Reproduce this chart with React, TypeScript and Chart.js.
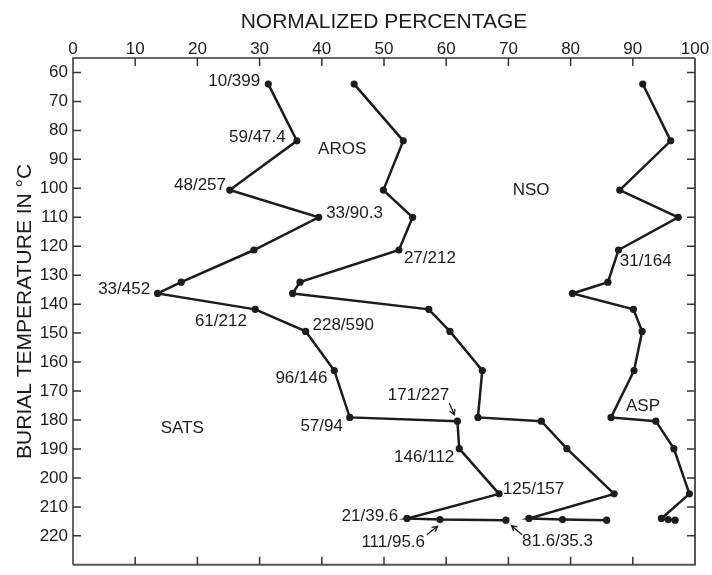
import React, { useEffect, useRef } from 'react';
import { Chart, registerables } from 'chart.js';

Chart.register(...registerables);

const FONT = "'Liberation Sans', Arial, Helvetica, sans-serif";
const INK = '#1c1c1c';

// axis ticks
const xTicks = [0, 10, 20, 30, 40, 50, 60, 70, 80, 90, 100];
const yTicks = [60, 70, 80, 90, 100, 110, 120, 130, 140, 150, 160, 170, 180, 190, 200, 210, 220];

// burial temperature of each sample (°C), shared by the three boundaries
const tempC = [64, 83.6, 100.6, 110, 121.3, 132.4, 136.3, 141.8, 149.4, 162.9, 179.1, 180.4, 189.9, 205.5, 214, 214.4, 214.6];

// cumulative normalized percentage at each boundary
const satsPct = [31.4, 36.0, 25.2, 39.5, 29.1, 17.4, 13.6, 29.3, 37.4, 42.0, 44.5, 61.8, 62.1, 68.5, 53.7, 59.0, 69.6];
const arosPct = [45.2, 53.1, 49.9, 54.6, 52.4, 36.5, 35.3, 57.2, 60.6, 65.8, 65.1, 75.3, 79.4, 87.0, 73.3, 78.7, 85.8];
const nsoPct = [91.6, 96.1, 87.9, 97.3, 87.7, 86.0, 80.3, 90.1, 91.5, 90.2, 86.5, 93.7, 96.6, 99.1, 94.6, 95.7, 96.8];

// text notes: [text, x %, y °C, align]
const notes: [string, number, number, CanvasTextAlign][] = [
  ['10/399', 30.1, 63.1, 'right'],
  ['59/47.4', 34.2, 82.4, 'right'],
  ['48/257', 24.6, 98.9, 'right'],
  ['33/90.3', 40.7, 108.5, 'left'],
  ['AROS', 39.4, 86.6, 'left'],
  ['NSO', 70.7, 100.6, 'left'],
  ['27/212', 53.2, 124.2, 'left'],
  ['31/164', 87.9, 125.3, 'left'],
  ['33/452', 12.4, 134.8, 'right'],
  ['61/212', 19.6, 145.9, 'left'],
  ['228/590', 38.5, 147.2, 'left'],
  ['96/146', 40.9, 165.7, 'right'],
  ['SATS', 14.1, 182.8, 'left'],
  ['57/94', 43.4, 182.2, 'right'],
  ['171/227', 60.5, 171.6, 'right'],
  ['ASP', 88.9, 175.3, 'left'],
  ['146/112', 61.3, 193.0, 'right'],
  ['125/157', 69.1, 204.1, 'left'],
  ['21/39.6', 52.3, 213.4, 'right'],
  ['111/95.6', 56.6, 222.4, 'right'],
  ['81.6/35.3', 72.2, 222.0, 'left'],
];

// arrows: [fromX, fromY, toX, toY]
const arrows: [number, number, number, number][] = [
  [60.5, 174.1, 61.3, 178.2],
  [56.9, 219.6, 58.6, 216.7],
  [72.2, 219.6, 70.5, 216.5],
];

const pts = (xs: number[]) => xs.map((x, i) => ({ x, y: tempC[i] }));

const framePlugin = {
  id: 'frame',
  afterDraw(chart: any) {
    const { ctx, chartArea: a, scales } = chart;
    const sx = scales.x;
    const sy = scales.y;
    ctx.save();
    ctx.strokeStyle = '#333';
    ctx.lineWidth = 1.5;
    ctx.beginPath();
    ctx.moveTo(a.left, a.bottom);
    ctx.lineTo(a.left, a.top);
    ctx.lineTo(a.right, a.top);
    ctx.stroke();
    ctx.strokeStyle = '#555';
    ctx.lineWidth = 2;
    ctx.beginPath();
    ctx.moveTo(a.right, a.top);
    ctx.lineTo(a.right, a.bottom);
    ctx.lineTo(a.left, a.bottom);
    ctx.stroke();

    const tl = 8;
    ctx.strokeStyle = '#333';
    ctx.lineWidth = 1.5;
    ctx.beginPath();
    xTicks.forEach((v) => {
      if (v === 0 || v === 100) return;
      const px = sx.getPixelForValue(v);
      ctx.moveTo(px, a.top);
      ctx.lineTo(px, a.top + tl);
      ctx.moveTo(px, a.bottom);
      ctx.lineTo(px, a.bottom - tl);
    });
    yTicks.forEach((v) => {
      const py = sy.getPixelForValue(v);
      ctx.moveTo(a.left, py);
      ctx.lineTo(a.left + tl, py);
      ctx.moveTo(a.right, py);
      ctx.lineTo(a.right - tl, py);
    });
    ctx.stroke();
    ctx.restore();
  },
  afterDatasetsDraw(chart: any) {
    const { ctx, scales } = chart;
    const sx = scales.x;
    const sy = scales.y;
    ctx.save();
    ctx.fillStyle = INK;
    ctx.font = `17px ${FONT}`;
    ctx.textBaseline = 'middle';
    notes.forEach(([t, x, y, al]) => {
      ctx.textAlign = al;
      ctx.fillText(t, sx.getPixelForValue(x), sy.getPixelForValue(y));
    });
    ctx.strokeStyle = INK;
    ctx.lineWidth = 1.3;
    arrows.forEach(([x1, y1, x2, y2]) => {
      const ax = sx.getPixelForValue(x1);
      const ay = sy.getPixelForValue(y1);
      const bx = sx.getPixelForValue(x2);
      const by = sy.getPixelForValue(y2);
      const ang = Math.atan2(by - ay, bx - ax);
      const h = 6;
      ctx.beginPath();
      ctx.moveTo(ax, ay);
      ctx.lineTo(bx, by);
      ctx.moveTo(bx - h * Math.cos(ang - 0.5), by - h * Math.sin(ang - 0.5));
      ctx.lineTo(bx, by);
      ctx.lineTo(bx - h * Math.cos(ang + 0.5), by - h * Math.sin(ang + 0.5));
      ctx.stroke();
    });
    ctx.restore();
  },
};

const lineStyle = {
  showLine: true,
  borderColor: INK,
  backgroundColor: INK,
  borderWidth: 2.5,
  pointRadius: 3.6,
  pointBackgroundColor: INK,
  pointBorderWidth: 0,
  tension: 0,
};

const App: React.FC = () => {
  const canvasRef = useRef<HTMLCanvasElement>(null);
  const chartRef = useRef<Chart | null>(null);

  useEffect(() => {
    if (!canvasRef.current) return;
    if (chartRef.current) chartRef.current.destroy();
    const ctx = canvasRef.current.getContext('2d');
    if (!ctx) return;

    chartRef.current = new Chart(ctx, {
      type: 'scatter',
      data: {
        datasets: [
          { label: 'SATS', data: pts(satsPct), ...lineStyle },
          { label: 'AROS', data: pts(arosPct), ...lineStyle },
          { label: 'NSO', data: pts(nsoPct), ...lineStyle },
        ],
      },
      options: {
        animation: false,
        responsive: false,
        devicePixelRatio: 1,
        layout: { padding: { left: 0, top: 0, right: 17, bottom: 2 } },
        plugins: { legend: { display: false }, tooltip: { enabled: false } },
        scales: {
          x: {
            type: 'linear',
            position: 'top',
            min: 0,
            max: 100,
            afterBuildTicks: (s: any) => {
              s.ticks = xTicks.map((value) => ({ value }));
            },
            afterFit: (s: any) => {
              s.height = 58;
            },
            grid: { display: false, drawTicks: false },
            border: { display: false },
            ticks: { font: { family: FONT, size: 17 }, color: INK, padding: -2, maxRotation: 0 },
            title: {
              display: true,
              text: 'NORMALIZED PERCENTAGE',
              font: { family: FONT, size: 21 },
              color: INK,
              padding: { top: 10, bottom: 0 },
            },
          },
          y: {
            type: 'linear',
            position: 'left',
            reverse: true,
            min: 55,
            max: 230,
            afterBuildTicks: (s: any) => {
              s.ticks = yTicks.map((value) => ({ value }));
            },
            afterFit: (s: any) => {
              s.width = 73;
            },
            grid: { display: false, drawTicks: false },
            border: { display: false },
            ticks: { font: { family: FONT, size: 17 }, color: INK, padding: 5 },
            title: {
              display: true,
              text: 'BURIAL TEMPERATURE IN °C',
              font: { family: FONT, size: 21 },
              color: INK,
              padding: { top: 13, bottom: 0 },
            },
          },
        },
      },
      plugins: [framePlugin],
    } as any);

    return () => {
      if (chartRef.current) {
        chartRef.current.destroy();
        chartRef.current = null;
      }
    };
  }, []);

  return (
    <div style={{ position: 'absolute', left: 0, top: 0, width: 712, height: 580, background: '#fff' }}>
      <canvas ref={canvasRef} width={712} height={580} />
    </div>
  );
};

export default App;
